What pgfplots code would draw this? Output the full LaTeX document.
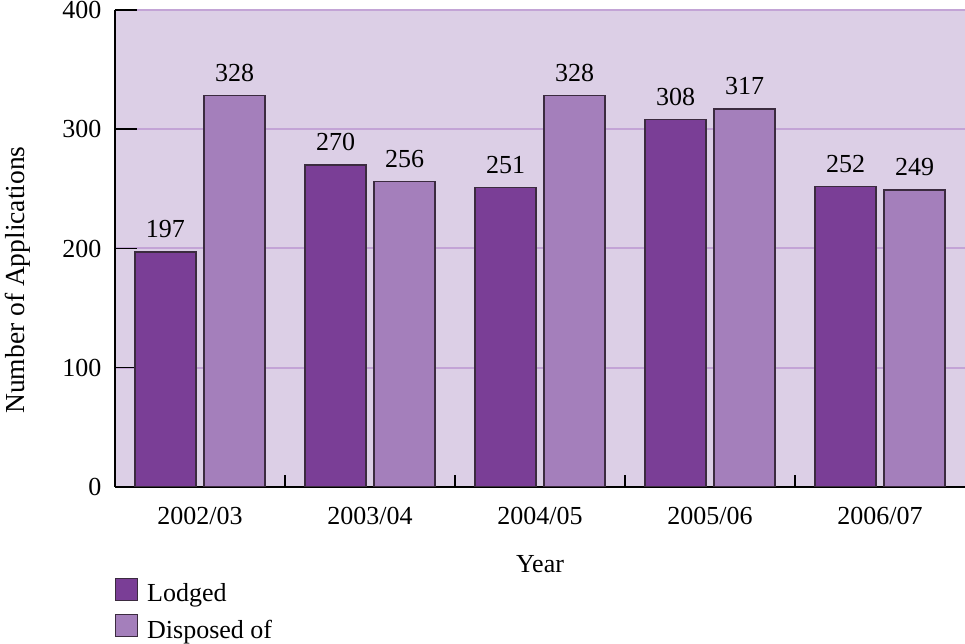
\documentclass[border=0pt]{standalone}
\usepackage{pgfplots}
\pgfplotsset{compat=1.18}
\usepackage{fontspec}
\setmainfont{Liberation Serif}
\definecolor{lodged}{HTML}{7A3E96}
\definecolor{disposed}{HTML}{A47FBB}
\definecolor{bgp}{HTML}{DCCFE6}
\definecolor{gridp}{HTML}{C3A4D6}
\definecolor{edgec}{HTML}{3B2B3F}
\newcommand{\fs}{\fontsize{26}{30}\selectfont}
\begin{document}
\begin{tikzpicture}
\useasboundingbox (-115pt,-157pt) rectangle (850pt,487pt);
\begin{axis}[
  at={(0pt,0pt)}, anchor=south west,
  width=850pt, height=477pt, scale only axis,
  xmin=-0.5, xmax=4.5, ymin=0, ymax=400,
  axis background/.style={fill=bgp},
  axis lines*=left,
  axis line style={-, line width=1.8pt, black},
  ybar=8pt, bar width=61pt,
  ytick={0,100,200,300,400},
  ymajorgrids, grid style={gridp, line width=2pt},
  tick align=inside, major tick length=22pt,
  ytick style={black, line width=1.5pt},
  xtick={0,1,2,3,4},
  xticklabels={2002/03,2003/04,2004/05,2005/06,2006/07},
  xtick style={draw=none},
  extra x ticks={0.5,1.5,2.5,3.5},
  extra x tick labels={},
  extra x tick style={major tick length=12pt, xtick style={draw=black, line width=1.5pt}, xmajorgrids=false},
  /pgf/number format/assume math mode=true,
  tick label style={font=\fs},
  yticklabel style={xshift=-10pt},
  xticklabel style={yshift=-17pt},
  xlabel={Year},
  xlabel style={font=\fs, at={(axis description cs:0.5,-0.18)}, anchor=base},
  ylabel={Number of Applications},
  ylabel style={font=\fontsize{27.5}{30}\selectfont, at={(axis description cs:-0.114,0.434)}, anchor=center},
  nodes near coords,
  nodes near coords style={font=\fs, yshift=10pt, black},
  legend style={at={(axis description cs:0,-0.19)}, anchor=north west, draw=none, fill=none,
     inner sep=0pt, row sep=9pt, font=\fs, legend cell align=left,
     /tikz/every odd column/.append style={column sep=7pt}},
  legend image code/.code={\draw[#1, line width=1pt] (0pt,-7pt) rectangle (22pt,15pt);},
]
\addplot[fill=lodged, draw=edgec, line width=1.2pt] coordinates {(0,197) (1,270) (2,251) (3,308) (4,252)};
\addplot[fill=disposed, draw=edgec, line width=1.2pt] coordinates {(0,328) (1,256) (2,328) (3,317) (4,249)};
\legend{Lodged, Disposed of}
\end{axis}
\end{tikzpicture}
\end{document}
